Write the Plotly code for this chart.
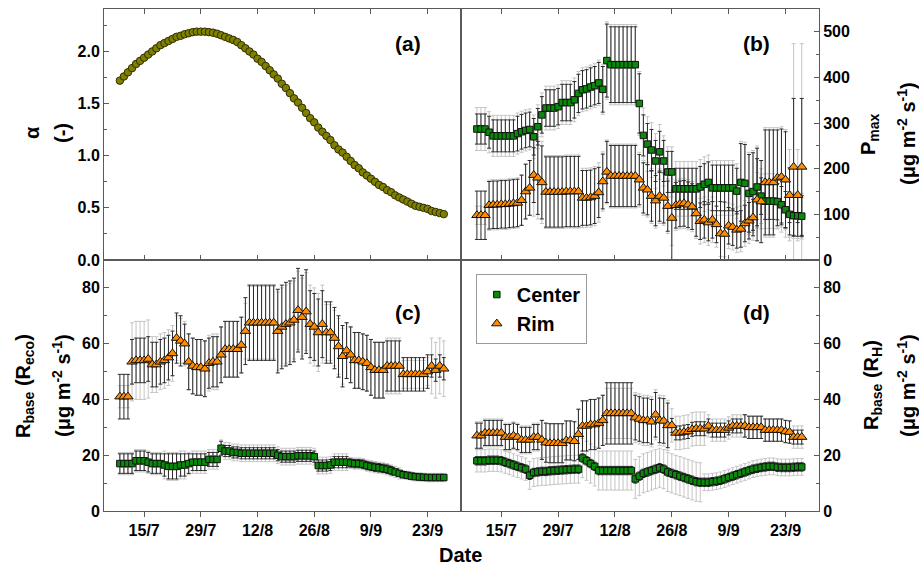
import plotly.graph_objects as go
import pandas as pd

# ---------------- data (one value per day, 9 Jul - 27 Sep) ----------------
start_date = "2016-07-09"
n_days = 81

alpha = [1.72, 1.76, 1.80, 1.84, 1.88, 1.91, 1.94, 1.97, 2.00, 2.03,
         2.06, 2.08, 2.10, 2.12, 2.14, 2.15, 2.165, 2.175, 2.185, 2.19,
         2.19, 2.19, 2.185, 2.18, 2.17, 2.155, 2.14, 2.125, 2.11, 2.09,
         2.06, 2.03, 2.00, 1.97, 1.93, 1.90, 1.86, 1.82, 1.78, 1.74,
         1.69, 1.65, 1.60, 1.55, 1.51, 1.46, 1.41, 1.36, 1.32, 1.27,
         1.23, 1.19, 1.15, 1.10, 1.06, 1.03, 0.99, 0.95, 0.91, 0.88,
         0.84, 0.81, 0.78, 0.75, 0.72, 0.70, 0.67, 0.65, 0.62, 0.60,
         0.58, 0.56, 0.54, 0.52, 0.51, 0.50, 0.49, 0.47, 0.46, 0.45,
         0.44]

pmax_center = [287, 287, 287, 280, 272, 272, 272, 272, 272, 272,
               277, 281, 284, 286, 270, 292, 318, 333, 333, 333,
               336, 345, 345, 345, 351, 365, 373, 375, 379, 382,
               388, 374, 437, 428, 428, 428, 428, 428, 428, 428,
               343, 273, 254, 241, 217, 237, 217, 193, 193, 156,
               156, 156, 156, 156, 156, 160, 166, 170, 158, 158,
               158, 158, 158, 158, 151, 170, 168, 146, 150, 160,
               140, 129, 129, 129, 128, 121, 110, 100, 97, 97,
               96]
pmax_center_err = [33, 33, 33, 35, 35, 35, 35, 35, 35, 35,
                   38, 38, 38, 38, 40, 40, 40, 40, 40, 40,
                   40, 40, 40, 40, 40, 42, 42, 42, 42, 42,
                   45, 50, 80, 83, 83, 83, 83, 83, 83, 83,
                   65, 45, 45, 45, 45, 45, 45, 45, 45, 45,
                   45, 45, 45, 45, 45, 45, 45, 45, 50, 50,
                   50, 50, 50, 50, 50, 85, 85, 85, 85, 85,
                   40, 40, 40, 40, 40, 40, 40, 45, 45, 45,
                   45]
pmax_center_err2 = [47, 47, 47, 45, 45, 45, 45, 45, 45, 45,
                    45, 45, 45, 45, 48, 48, 48, 48, 48, 48,
                    48, 48, 48, 48, 48, 48, 48, 48, 48, 48,
                    50, 55, 85, 88, 88, 88, 88, 88, 88, 88,
                    70, 60, 60, 60, 60, 60, 55, 55, 55, 60,
                    60, 60, 60, 60, 60, 60, 60, 60, 60, 60,
                    60, 60, 60, 60, 60, 90, 90, 90, 90, 90,
                    60, 60, 60, 60, 60, 60, 60, 50, 50, 50,
                    50]

pmax_rim = [98, 98, 98, 120, 121, 121, 122, 122, 123, 124,
            125, 131, 150, 158, 186, 180, 170, 149, 149, 149,
            149, 149, 150, 150, 150, 150, 136, 136, 137, 140,
            148, 172, 193, 184, 184, 184, 184, 184, 184, 184,
            176, 158, 154, 140, 130, 140, 136, 118, 92, 120,
            123, 124, 121, 117, 102, 85, 88, 82, 88, 78,
            58, 57, 75, 72, 66, 68, 80, 86, 93, 132,
            128, 170, 170, 170, 180, 182, 176, 142, 204, 142,
            204]
pmax_rim_err = [53, 53, 53, 52, 52, 52, 52, 52, 52, 52,
                52, 55, 60, 60, 60, 80, 80, 77, 77, 77,
                77, 77, 77, 77, 77, 77, 60, 60, 60, 60,
                55, 60, 67, 67, 67, 67, 67, 67, 67, 67,
                55, 55, 55, 55, 55, 55, 55, 55, 100, 50,
                50, 50, 50, 50, 50, 40, 40, 40, 40, 40,
                70, 70, 40, 40, 40, 40, 40, 40, 40, 90,
                90, 115, 115, 115, 105, 105, 105, 60, 150, 60,
                150]
pmax_rim_err2 = [20, 20, 20, 55, 55, 55, 55, 55, 55, 55,
                 55, 55, 60, 60, 90, 90, 90, 80, 80, 80,
                 80, 80, 80, 80, 80, 80, 65, 65, 65, 65,
                 65, 65, 70, 70, 70, 70, 70, 70, 70, 70,
                 60, 60, 60, 60, 60, 60, 60, 60, 60, 55,
                 55, 55, 55, 55, 55, 50, 50, 50, 50, 50,
                 50, 50, 50, 50, 50, 50, 50, 50, 50, 60,
                 60, 120, 120, 120, 110, 110, 110, 100, 270, 100,
                 270]

reco_center = [17, 17, 17, 17, 18, 18, 18, 17.5, 17, 17,
               17, 16.5, 16, 16, 16, 16.5, 16.5, 17, 17.5, 17.5,
               17.5, 17.5, 18.5, 18.5, 18.5, 22.5, 21.5, 21.5, 21, 21,
               20.7, 20.7, 20.7, 20.7, 20.7, 20.7, 20.7, 20.7, 20.7, 20,
               19.5, 19.5, 19.5, 19.5, 19.8, 19.8, 19.8, 19.8, 19.5, 16.3,
               16.3, 16.3, 16.5, 17.5, 17.5, 17.5, 17.5, 17.2, 17, 17,
               16.8, 16.3, 16, 15.7, 15.5, 15.3, 15, 14.5, 14, 13.5,
               13, 12.8, 12.5, 12.3, 12.2, 12.1, 12, 12, 12, 12,
               12]
reco_center_err = [3.5, 3.5, 3.5, 3.5, 3.5, 3.5, 3.5, 3.5, 3.5, 3.5,
                   3.5, 4, 4.5, 4.5, 4.5, 4, 4, 3.5, 3, 3,
                   3, 3, 2.5, 2.5, 2.5, 2.5, 2, 2, 2, 2,
                   2, 2, 2, 2, 2, 2, 2, 2, 2, 2,
                   2, 2, 2, 2, 2, 2, 2, 2, 2, 2,
                   2, 2, 2, 2, 2, 2, 2, 1.5, 1.5, 1.5,
                   1.5, 1.5, 1.5, 1.5, 1.5, 1.5, 1.5, 1.5, 1, 1,
                   1, 1, 1, 1, 1, 1, 1, 1, 1, 1,
                   1]
reco_center_err2 = [4, 4, 4, 4, 4, 4, 4, 4, 4, 4,
                    4, 5, 5, 5, 5, 5, 5, 4, 4, 4,
                    4, 4, 3.5, 3.5, 3.5, 3, 3, 3, 3, 3,
                    3, 3, 3, 3, 3, 3, 3, 3, 3, 3,
                    3, 3, 3, 3, 3, 3, 3, 3, 3, 3,
                    3, 3, 3, 3, 3, 3, 3, 2, 2, 2,
                    2, 2, 2, 2, 2, 2, 2, 2, 2, 2,
                    1.5, 1.5, 1.5, 1.5, 1.5, 1.5, 1.5, 1.5, 1.5, 1.5,
                    1.5]

reco_rim = [41, 41, 41, 53.5, 54, 54, 54, 54.5, 52.5, 52.5,
            53.5, 54, 55, 56.5, 62, 61, 60, 53.5, 52, 51.5,
            51.5, 51, 53, 53.5, 53.5, 56, 58, 58, 58, 58,
            59.5, 64.5, 67.5, 67.5, 67.5, 67.5, 67.5, 67.5, 67.5, 64.5,
            66, 67, 67.5, 68.5, 72, 69.5, 71.5, 67, 66, 64,
            67, 64, 64, 62, 59, 55.5, 57.5, 56, 54, 54,
            53.5, 53, 51.5, 50.5, 50.5, 50.5, 52, 52, 52, 52,
            49, 49, 49, 49, 49, 49, 50, 52, 50.5, 52,
            51]
reco_rim_err = [8, 8, 8, 8, 8, 8, 8, 8, 8, 8,
                8, 8, 8, 8, 9, 9, 7, 10, 10, 10,
                10, 10, 9, 9, 9, 10, 10, 10, 10, 10,
                10, 12, 13.5, 13.5, 13.5, 13.5, 13.5, 13.5, 13.5, 15,
                15, 15, 15, 15, 15, 15, 15, 12, 12, 12,
                12, 11, 11, 11, 11, 11, 10, 10, 10, 10,
                10, 10, 10, 10, 10, 10, 9, 9, 9, 9,
                6, 6, 6, 6, 6, 6, 6, 4, 4, 4,
                4]
reco_rim_err2 = [4, 4, 4, 14, 14, 14, 14, 14, 10, 10,
                 10, 10, 10, 10, 8, 8, 8, 10, 10, 10,
                 10, 10, 10, 10, 10, 10, 10, 10, 10, 10,
                 10, 10, 13, 13, 13, 13, 13, 13, 13, 14,
                 14, 14, 14, 14, 14, 14, 14, 14, 14, 14,
                 14, 10, 10, 10, 10, 10, 10, 10, 10, 10,
                 10, 10, 10, 10, 10, 10, 10, 10, 10, 10,
                 5, 5, 5, 5, 5, 5, 5, 10, 10, 10,
                 10]

rh_center = [18, 18, 18, 18.2, 18.2, 18.2, 18, 17.5, 17, 16.5,
             16, 15.5, 15, 12.8, 13.8, 14, 14.2, 14.2, 14.4, 14.5,
             14.6, 14.7, 14.8, 14.9, 15, 15, 19, 18, 17, 16,
             14.5, 14.5, 14.5, 14.5, 14.5, 14.5, 14.5, 14.5, 14.5, 11.5,
             12.5, 13.5, 14, 14.5, 15, 15.5, 15, 14, 13.5, 13,
             12.5, 12, 11.5, 11, 10.5, 10.3, 10.3, 10.3, 10.5, 10.7,
             11, 11.5, 12, 12.5, 13, 13.5, 14, 14.5, 15, 15.3,
             15.6, 15.8, 16, 16, 15.7, 15.6, 15.6, 15.6, 15.7, 15.8,
             15.8]
rh_center_err = [1.5, 1.5, 1.5, 1.5, 1.5, 1.5, 1.5, 1.5, 1.5, 1.5,
                 1.5, 1.5, 1.5, 1.5, 1.5, 1.5, 1.5, 1.5, 1.5, 1.5,
                 1.5, 1.5, 1.5, 1.5, 1.5, 1.5, 1.5, 1.5, 1.5, 1.5,
                 1.5, 1.5, 1.5, 1.5, 1.5, 1.5, 1.5, 1.5, 1.5, 1.5,
                 1.5, 1.5, 1.5, 1.5, 1.5, 1.5, 1.5, 1.5, 1.5, 1.5,
                 1.5, 1.5, 1.5, 1.5, 1.5, 1.5, 1.5, 1.5, 1.5, 1.5,
                 1.5, 1.5, 1.5, 1.5, 1.5, 1.5, 1.5, 1.5, 1.5, 1.5,
                 1.5, 1.5, 1.5, 1.5, 1.5, 1.5, 1.5, 1.5, 1.5, 1.5,
                 1.5]
rh_center_err2 = [4, 4, 4, 4, 4, 4, 4, 4, 4, 4,
                  4, 4, 4, 5, 5, 5, 5, 5, 5, 5,
                  5, 5, 5, 5, 5, 5, 7, 7, 7, 7,
                  7, 7, 7, 7, 7, 7, 7, 7, 7, 7,
                  7, 7, 7, 7, 7, 7, 7, 7, 7, 7,
                  7, 7, 7, 7, 7, 7, 3, 3, 3, 3,
                  3, 3, 3, 3, 3, 3, 3, 3, 3, 3,
                  3, 3, 3, 3, 3, 3, 3, 3, 3, 3,
                  3]

rh_rim = [27, 27, 28, 28, 28, 28, 28, 26.5, 26.5, 27,
          26.5, 25.5, 25.5, 25.5, 26.5, 26.5, 25.5, 24.5, 24.3, 24.3,
          24.3, 24.3, 25.3, 25.3, 25, 27.5, 30.5, 30.5, 31, 31,
          31.5, 32.5, 35, 35, 35, 35, 35, 35, 35, 33.5,
          33, 32.5, 32.5, 32, 34.5, 32.5, 32.3, 30.7, 30.7, 28,
          28, 28.3, 28.5, 29.3, 29.5, 29.5, 29.5, 30.5, 29, 29,
          29, 29, 29.8, 30.5, 30.5, 30.5, 30.5, 30, 30, 30,
          30, 29, 29, 29, 29, 29, 28.5, 28.3, 26.5, 26.5,
          26.5]
rh_rim_err = [4.5, 4.5, 4.5, 4.5, 4.5, 4.5, 4.5, 4.5, 4.5, 4.5,
              4.5, 4.5, 4.5, 4.5, 4.5, 4.5, 7, 7, 7, 7,
              7, 7, 7, 7, 7, 9, 9, 9, 9, 9,
              9, 9, 11, 11, 11, 11, 11, 11, 11, 8,
              8, 8, 8, 8, 8, 8, 8, 8, 2.5, 2.5,
              2.5, 2.5, 2.5, 2.5, 2.5, 2.5, 2.5, 2.5, 2.5, 2.5,
              2.5, 2.5, 2.5, 2.5, 2.5, 2.5, 4, 4, 4, 4,
              4, 4, 4, 4, 4, 4, 4, 4, 2.5, 2.5,
              2.5]
rh_rim_err2 = [5, 5, 5, 5, 5, 5, 5, 5, 5, 5,
               5, 5, 5, 5, 5, 5, 7, 7, 7, 7,
               7, 7, 7, 7, 7, 9, 9, 9, 9, 9,
               9, 9, 9, 9, 9, 9, 9, 9, 9, 9,
               9, 9, 9, 9, 9, 9, 9, 9, 6, 6,
               6, 6, 6, 6, 6, 6, 6, 4, 4, 4,
               4, 4, 4, 4, 4, 4, 4, 4, 4, 4,
               4, 4, 4, 4, 4, 4, 4, 4, 4, 4,
               4]

tick_dates = ["2016-07-15", "2016-07-29", "2016-08-12", "2016-08-26", "2016-09-09", "2016-09-23"]
tick_labels = ["15/7", "29/7", "12/8", "26/8", "9/9", "23/9"]
x_range = ["2016-07-05 02:00", "2016-10-01 06:00"]

for nm, arr in [("alpha", alpha), ("pmax_center", pmax_center), ("pmax_center_err", pmax_center_err),
                ("pmax_center_err2", pmax_center_err2), ("pmax_rim", pmax_rim), ("pmax_rim_err", pmax_rim_err),
                ("pmax_rim_err2", pmax_rim_err2), ("reco_center", reco_center), ("reco_center_err", reco_center_err),
                ("reco_center_err2", reco_center_err2), ("reco_rim", reco_rim), ("reco_rim_err", reco_rim_err),
                ("reco_rim_err2", reco_rim_err2), ("rh_center", rh_center), ("rh_center_err", rh_center_err),
                ("rh_center_err2", rh_center_err2), ("rh_rim", rh_rim), ("rh_rim_err", rh_rim_err),
                ("rh_rim_err2", rh_rim_err2)]:
    assert len(arr) == n_days, f"{nm} has {len(arr)}"

dates = pd.date_range(start_date, periods=n_days, freq="D")

# ---------------- styles ----------------
FONT = "Liberation Sans, Arial, sans-serif"
C_GREEN = "#0a8a0a"
C_ORANGE = "#ff8c00"
C_OLIVE = "#808000"
GRAY_ERR = "#c4c4c4"
BLACK_ERR = "#2a2a2a"
LINE_C = "#5a5a5a"

fig = go.Figure()


def err_trace(y, err, color, xa, ya):
    return go.Scatter(x=dates, y=y, mode="markers", xaxis=xa, yaxis=ya,
                      marker=dict(size=1, color="rgba(0,0,0,0)"),
                      error_y=dict(type="data", array=err, visible=True, color=color,
                                   thickness=1, width=2),
                      showlegend=False, hoverinfo="skip")


def marker_trace(y, name, symbol, color, size, xa, ya, showlegend):
    return go.Scatter(x=dates, y=y, mode="markers", name=name, xaxis=xa, yaxis=ya,
                      marker=dict(symbol=symbol, size=size, color=color,
                                  line=dict(color="#111111", width=1)),
                      showlegend=showlegend)


# panel (a)
fig.add_trace(go.Scatter(x=dates, y=alpha, mode="markers", xaxis="x", yaxis="y",
                         marker=dict(symbol="circle", size=7.5, color=C_OLIVE,
                                     line=dict(color="#2e2e00", width=1)),
                         showlegend=False))

panels = [
    ("x2", "y2", pmax_center, pmax_center_err, pmax_center_err2, pmax_rim, pmax_rim_err, pmax_rim_err2, True),
    ("x3", "y3", reco_center, reco_center_err, reco_center_err2, reco_rim, reco_rim_err, reco_rim_err2, False),
    ("x4", "y4", rh_center, rh_center_err, rh_center_err2, rh_rim, rh_rim_err, rh_rim_err2, False),
]
for xa, ya, yc, ec, ec2, yr, er, er2, leg in panels:
    fig.add_trace(err_trace(yc, ec2, GRAY_ERR, xa, ya))
    fig.add_trace(err_trace(yr, er2, GRAY_ERR, xa, ya))
    fig.add_trace(err_trace(yc, ec, BLACK_ERR, xa, ya))
    fig.add_trace(err_trace(yr, er, BLACK_ERR, xa, ya))
    fig.add_trace(marker_trace(yc, "Center", "square", C_GREEN, 6.5, xa, ya, leg))
    fig.add_trace(marker_trace(yr, "Rim", "triangle-up", C_ORANGE, 9, xa, ya, leg))

XSPLIT = 0.4993
tickfont = dict(family=FONT, size=16, color="black", weight="bold")

xbase = dict(range=x_range, type="date", tickvals=tick_dates, ticktext=tick_labels,
             showline=True, linecolor=LINE_C, linewidth=1, showgrid=False, zeroline=False,
             tickcolor=LINE_C, ticklen=5, tickfont=tickfont)
xtop = dict(xbase, ticks="inside", mirror="ticks", showticklabels=False)
xbot = dict(xbase, ticks="outside", mirror=True, showticklabels=True)

ybase = dict(showline=True, linecolor=LINE_C, linewidth=1, showgrid=False, zeroline=False,
             mirror=True, ticks="inside", ticklen=5, tickcolor=LINE_C, tickfont=tickfont)

fig.update_layout(
    width=919, height=570,
    margin=dict(l=104, r=100, t=9, b=59),
    paper_bgcolor="white", plot_bgcolor="white",
    font=dict(family=FONT, color="black"),
    xaxis=dict(xtop, domain=[0, XSPLIT], anchor="y"),
    xaxis2=dict(xtop, domain=[XSPLIT, 1], anchor="y2"),
    xaxis3=dict(xbot, domain=[0, XSPLIT], anchor="y3"),
    xaxis4=dict(xbot, domain=[XSPLIT, 1], anchor="y4"),
    yaxis=dict(ybase, domain=[0.5, 1], anchor="x", range=[0, 2.407], dtick=0.5, tick0=0,
               tickformat=".1f", minor=dict(ticks="inside", ticklen=3, dtick=0.25, tickcolor=LINE_C)),
    yaxis2=dict(ybase, domain=[0.5, 1], anchor="x2", side="right", range=[0, 550], dtick=100, tick0=0,
                minor=dict(ticks="inside", ticklen=3, dtick=50, tickcolor=LINE_C)),
    yaxis3=dict(ybase, domain=[0, 0.5], anchor="x3", range=[0, 90], dtick=20, tick0=0,
                minor=dict(ticks="inside", ticklen=3, dtick=10, tickcolor=LINE_C)),
    yaxis4=dict(ybase, domain=[0, 0.5], anchor="x4", side="right", range=[0, 90], dtick=20, tick0=0,
                minor=dict(ticks="inside", ticklen=3, dtick=10, tickcolor=LINE_C)),
    legend=dict(x=0.52, y=0.472, xanchor="left", yanchor="top",
                bgcolor="white", bordercolor="#9a9a9a", borderwidth=1,
                font=dict(family=FONT, size=20, color="black", weight="bold"),
                tracegroupgap=0, itemsizing="trace"),
)

L, R, T, B = 104, 819, 9, 511


def px(xp):
    return (xp - L) / (R - L)


def py(yp):
    return (B - yp) / (B - T)


annos = []
for txt, xp, yp in [("(a)", 408, 43), ("(b)", 756, 43), ("(c)", 408, 312), ("(d)", 756, 312)]:
    annos.append(dict(text=f"<b>{txt}</b>", x=px(xp), y=py(yp), xref="paper", yref="paper",
                      showarrow=False, xanchor="center", yanchor="middle",
                      font=dict(family=FONT, size=21, color="black")))

ytitles = [
    ("<b>α</b>", 32, 133),
    ("<b>(-)</b>", 62, 133),
    ("<b>R<sub>base</sub> (R<sub>eco</sub>)</b>", 24, 386),
    ("<b>(μg m<sup>-2</sup> s<sup>-1</sup>)</b>", 61, 386),
    ("<b>P<sub>max</sub></b>", 869, 134),
    ("<b>(μg m<sup>-2</sup> s<sup>-1</sup>)</b>", 906, 134),
    ("<b>R<sub>base</sub> (R<sub>H</sub>)</b>", 872, 385),
    ("<b>(μg m<sup>-2</sup> s<sup>-1</sup>)</b>", 906, 386),
]
for txt, xp, yp in ytitles:
    annos.append(dict(text=txt, x=px(xp), y=py(yp), xref="paper", yref="paper",
                      showarrow=False, xanchor="center", yanchor="middle", textangle=-90,
                      font=dict(family=FONT, size=20, color="black")))

annos.append(dict(text="<b>Date</b>", x=px(460), y=py(555), xref="paper", yref="paper",
                  showarrow=False, xanchor="center", yanchor="middle",
                  font=dict(family=FONT, size=20, color="black")))

fig.update_layout(annotations=annos)

fig.write_html("out.html", config={"displayModeBar": False},
               post_script="document.body.style.margin='0';document.body.style.padding='0';")
